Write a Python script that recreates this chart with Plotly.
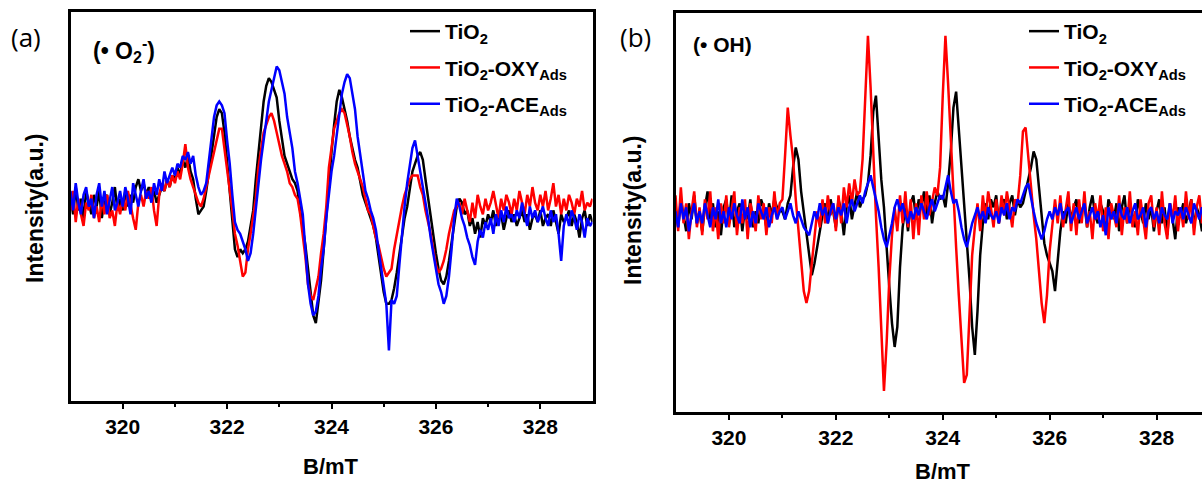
import numpy as np
import plotly.graph_objects as go

# Magnetic field sweep, 319-329 mT in 0.05 mT steps
field_mT = np.round(np.arange(319.0, 329.0001, 0.05), 2)

# (a) DMPO-•O2- spin adduct spectra, arbitrary units (baseline ~ 0)
o2_tio2 = [
    2, -3, 4, -2, 1, -4, 3, 0, -3, 2,
    -1, 3, -4, 1, 2, -3, 0, 4, -2, 1,
    -2, 3, -1, 2, 0, 4, 6, 3, 5, 2,
    4, 1, 3, 0, 2, 4, 3, 6, 4, 7,
    6, 9, 7, 11, 9, 12, 8, 6, 1, -3,
    -2, -1, 3, 8, 13, 18, 22, 24, 23, 18,
    11, 4, -4, -12, -14, -12, -13, -12, -10, -6,
    -2, 6, 13, 20, 26, 30, 32, 31, 29, 27,
    21, 16, 12, 10, 8, 6, 5, 3, -2, -6,
    -11, -17, -24, -29, -31, -26, -20, -12, -3, 5,
    13, 20, 26, 29, 27, 24, 21, 17, 14, 11,
    9, 5, 2, 0, -2, -4, -6, -9, -14, -19,
    -23, -26, -26, -25, -22, -18, -13, -9, -4, -1,
    4, 8, 10, 12, 13, 11, 6, 1, -4, -8,
    -13, -17, -20, -21, -19, -15, -10, -5, -1, 1,
    0, -3, -2, -6, -4, -8, -5, -9, -4, -6,
    -3, -5, -2, -6, -4, -3, -7, -4, -2, -5,
    -3, -6, -4, -2, -5, -3, -7, -4, -3, -5,
    -2, -6, -4, -3, -6, -2, -5, -8, -3, -5,
    -4, -2, -6, -3, -5, -9, -4, -2, -6, -3,
    -5,
]
o2_oxy = [
    -2, 3, -5, 1, -3, -6, 0, -2, 2, -4,
    -1, -5, 1, -3, 2, -4, -2, -6, 0, -3,
    1, -2, 3, -1, -4, -7, 0, 2, -1, 3,
    1, 4, -2, -6, 2, 5, 3, 6, 4, 7,
    5, 8, 6, 10, 15, 9, 6, 4, 2, 0,
    -1, 1, 4, 7, 10, 13, 16, 19, 19, 14,
    8, 4, -2, -8, -11, -15, -19, -18, -12, -8,
    -4, 1, 9, 14, 18, 20, 22, 23, 21, 18,
    15, 12, 10, 8, 5, 4, 2, 1, -3, -8,
    -14, -21, -24, -25, -22, -19, -13, -8, -1, 9,
    14, 19, 21, 23, 24, 23, 20, 17, 13, 10,
    8, 6, 4, 1, -2, -3, -6, -9, -11, -14,
    -17, -19, -18, -17, -12, -8, -5, -1, 2, 4,
    6, 7, 7, 7, 4, 2, -2, -5, -8, -12,
    -16, -18, -17, -15, -12, -8, -5, -2, -1, 0,
    -3, 1, -2, -5, 0, -4, 2, -1, -3, 1,
    -2, 0, 3, -1, -4, 1, -2, 2, 0, -3,
    1, -2, 3, 0, -3, 2, -1, 4, 0, -2,
    2, -1, 3, -2, 1, 5, -1, 2, -3, 1,
    -2, 2, 0, -3, 1, -1, 3, -2, 0, -1,
    1,
]
o2_ace = [
    3, -2, 5, 0, -3, 2, 4, -1, 1, -4,
    2, 5, -1, 3, -3, 1, 4, -2, 0, 3,
    -1, 4, 1, -3, 5, 2, -1, 3, 6, 1,
    3, 0, 5, 2, 6, 3, 8, 5, 7, 9,
    7, 10, 9, 12, 11, 13, 10, 12, 7, 4,
    2, 3, 5, 11, 17, 22, 25, 26, 25, 23,
    16, 10, 2, -5, -7, -8, -10, -12, -15, -13,
    -8, -1, 5, 11, 16, 21, 26, 29, 32, 35,
    34, 31, 28, 22, 18, 14, 8, 5, 1, -3,
    -12, -21, -26, -29, -28, -24, -17, -12, -4, 2,
    8, 12, 17, 23, 28, 31, 33, 32, 28, 24,
    17, 12, 7, 3, 1, -2, -4, -7, -12, -17,
    -21, -26, -38, -25, -26, -24, -16, -8, -1, 5,
    10, 14, 16, 12, 9, 4, 0, -4, -9, -13,
    -17, -21, -23, -26, -24, -19, -12, -4, 1, -1,
    -4, -6, -9, -11, -14, -16, -10, -7, -9, -5,
    -7, -4, -8, -3, -6, -2, -5, -1, -4, -3,
    -5, -2, -4, 0, -3, -6, -1, -4, -2, -5,
    -3, -1, -4, -6, -2, -5, -3, -8, -15, -6,
    -3, -6, -2, -4, -7, -3, -5, -9, -4, -6,
    -5,
]

# (b) DMPO-•OH spin adduct spectra, arbitrary units (baseline ~ 0)
oh_tio2 = [
    2, -3, 4, 0, -4, 3, -1, 5, -2, 1,
    -4, 2, 6, -1, 3, -3, 1, -5, 2, 4,
    -2, 5, -3, 1, 3, -4, 2, -1, 4, -3,
    1, -2, 4, 2, -3, 3, 0, 4, 2, 1,
    1, -1, 3, 5, 12, 17, 14, 6, 1, -4,
    -9, -15, -12, -8, -3, 0, 3, -2, 4, 1,
    -3, 4, 1, -5, 2, 5, -1, 3, 6, 2,
    4, 5, 8, 15, 26, 30, 20, 9, 2, -9,
    -18, -27, -33, -28, -13, -3, 2, -4, 3, 5,
    -1, 4, 2, 6, 0, 5, -2, 3, 6, 4,
    5, 2, 8, 16, 27, 31, 22, 12, 3, -6,
    -16, -28, -35, -24, -10, -2, 3, -1, 4, 2,
    5, -2, 3, 4, -1, 3, 5, 0, 4, 2,
    3, 6, 9, 12, 16, 14, 7, 0, -7, -10,
    -12, -14, -19, -12, -4, 1, -2, 3, -1, 2,
    4, -2, 1, 3, -3, 2, 5, 0, -2, 3,
    1, -3, 4, 2, -1, 3, -4, 2, 5, -2,
    3, 0, -3, 4, 1, -2, 3, -1, 2, -4,
    1, 4, -2, 2, -5, 3, -1, -6, 2, 0,
    3, -2, 1, 4, -3, 2, 0, -4, 3, 1,
    0,
]
oh_oxy = [
    5, -4, 7, -2, 3, -6, 1, 6, -3, 2,
    -5, 4, -1, 6, -4, 2, -6, 3, -2, 5,
    -3, 1, 6, -5, 2, -2, 4, -6, 3, 0,
    -4, 5, -1, 3, -5, 2, -2, 6, -1, 3,
    4, 15, 27, 20, 14, 4, -4, -13, -19, -22,
    -19, -12, -6, 1, -3, 4, -2, 5, 0, 3,
    -4, 5, -2, 7, 2, 8, 3, 9, 5, 6,
    14, 30, 45, 32, 15, 0, -13, -28, -44, -32,
    -16, -5, 2, -4, 5, -2, 6, -3, 4, -6,
    3, -5, 5, -1, 6, 0, 4, 7, 5, 12,
    30, 45, 33, 18, 4, -8, -20, -32, -42, -40,
    -25, -10, -3, 3, -4, 5, -1, 6, 2, -3,
    4, -2, 5, 0, 6, 1, -3, 4, 3, 10,
    21, 22, 14, 8, 0, -6, -14, -22, -27, -20,
    -9, -3, 4, -2, 5, -3, 2, 6, -4, 3,
    -5, 4, -2, 6, -3, 1, -6, 3, -1, 5,
    -4, 2, -6, 3, 0, -3, 5, -5, 2, -2,
    6, -3, 1, -5, 4, -1, -6, 3, 5, -3,
    2, -5, 6, -2, -6, 3, -1, 5, -4, 2,
    -3, 6, -1, 4, -5, 2, 5, -2, 3, 6,
    -1,
]
oh_ace = [
    1, -3, 3, -1, 2, -4, 0, 3, -2, 1,
    -2, 3, 0, -3, 2, -1, 4, -2, 1, -3,
    2, -1, 3, 0, -2, 4, -1, 2, -3, 1,
    -2, 3, 1, -1, 2, -3, 0, 2, -1, 1,
    2, -1, 1, 3, 0, -2, 1, -1, -3, -4,
    -5, -2, 1, -1, 3, 0, 2, -2, 1, 3,
    -1, 2, 0, 3, -2, 2, 4, 1, 3, 5,
    3, 6, 8, 10, 7, 4, 1, -3, -6, -8,
    -5, -2, 2, 4, 1, 3, 0, -2, 1, -1,
    2, 0, 3, 1, -1, 2, 4, 1, 3, 5,
    4, 7, 10, 6, 3, 4, 1, -3, -6, -8,
    -5, -2, 0, 2, -1, 1, -2, 2, 0, -1,
    1, -2, 2, 0, 3, -1, 2, 1, 4, 3,
    5, 7, 8, 4, 1, -2, -4, -6, -4, -1,
    1, -1, 2, 0, 3, -1, 1, 2, -2, 0,
    2, -1, 1, 3, -2, 0, 2, -1, 1, -3,
    0, -5, 2, -1, 1, -2, 3, 0, -1, 2,
    -2, 1, 3, -1, 0, 2, -3, 1, 2, -1,
    1, -2, 2, 0, -1, 3, -2, 1, 0, 2,
    -1, 2, 0, -2, 3, 1, -1, 2, 0, 1,
    0,
]

series_names = [
    "TiO<sub>2</sub>",
    "TiO<sub>2</sub>-OXY<sub>Ads</sub>",
    "TiO<sub>2</sub>-ACE<sub>Ads</sub>",
]
series_colors = ["#000000", "#ff0000", "#0000ff"]

major_ticks = [320, 322, 324, 326, 328]
minor_ticks = [321, 323, 325, 327]

W, H = 1202, 485
FONT = "Liberation Sans, Arial, sans-serif"


def px_x(p):
    return p / W


def px_y(p):
    return 1 - p / H


fig = go.Figure()

panels = [
    ("x", "y", "legend", [o2_tio2, o2_oxy, o2_ace]),
    ("x2", "y2", "legend2", [oh_tio2, oh_oxy, oh_ace]),
]
for xa, ya, leg, data in panels:
    for k, (name, color, vals) in enumerate(zip(series_names, series_colors, data)):
        fig.add_trace(go.Scatter(
            x=field_mT, y=vals, mode="lines", name=name,
            line=dict(color=color, width=2.5),
            xaxis=xa, yaxis=ya, legend=leg, legendgroup=f"{leg}_{k}",
        ))

tickfont = dict(family=FONT, size=21, color="black", weight="bold")
xcommon = dict(
    tickmode="array", tickvals=major_ticks,
    ticks="outside", ticklen=5, tickwidth=2, tickcolor="black",
    minor=dict(tickmode="array", tickvals=minor_ticks, ticks="outside",
               ticklen=3, tickwidth=2, tickcolor="black", showgrid=False),
    showline=True, linewidth=2.5, linecolor="black", mirror=True,
    showgrid=False, zeroline=False, tickfont=tickfont,
)
ycommon = dict(
    showticklabels=False, ticks="", showline=True, linewidth=2.5, linecolor="black",
    showgrid=False, zeroline=False,
)

legcommon = dict(
    font=dict(family=FONT, size=21, color="black", weight="bold"),
    bgcolor="rgba(0,0,0,0)", traceorder="grouped", tracegroupgap=6,
    xanchor="left", yanchor="top",
)

fig.update_layout(
    width=W, height=H,
    margin=dict(l=0, r=0, t=0, b=0),
    paper_bgcolor="white", plot_bgcolor="white",
    showlegend=True,
    xaxis=dict(domain=[px_x(70.5), px_x(592.5)], range=[319, 329], anchor="y", **xcommon),
    yaxis=dict(domain=[px_y(401), px_y(12)], range=[-51, 49], anchor="x", mirror=True, **ycommon),
    xaxis2=dict(domain=[px_x(675.5), 1.0], range=[319, 328.85], anchor="y2", **xcommon),
    yaxis2=dict(domain=[px_y(412), px_y(13)], range=[-49.3, 50.7], anchor="x2", mirror=False, **ycommon),
    legend=dict(x=px_x(405), y=px_y(11), **legcommon),
    legend2=dict(x=px_x(1024), y=px_y(11), **legcommon),
)

bold = dict(family=FONT, size=21, color="black", weight="bold")
panel_font = dict(family="Open Sans, sans-serif", size=26, color="black")
notes = [
    ("(a)", 26, 37, panel_font, 0),
    ("(b)", 635, 37, panel_font, 0),
    ("(• O<sub>2</sub><sup>-</sup>)", 124, 50, dict(bold, size=23), 0),
    ("(• OH)", 722, 44, bold, 0),
    ("Intensity(a.u.)", 35, 208, dict(bold, size=23), -90),
    ("Intensity(a.u.)", 633, 210, dict(bold, size=23), -90),
    ("B/mT", 331, 466, dict(bold, size=22), 0),
    ("B/mT", 943, 471, dict(bold, size=22), 0),
]
for text, x, y, font, ang in notes:
    fig.add_annotation(
        text=text, x=px_x(x), y=px_y(y), xref="paper", yref="paper",
        xanchor="center", yanchor="middle", showarrow=False, font=font, textangle=ang,
    )

fig.write_html("out.html")
